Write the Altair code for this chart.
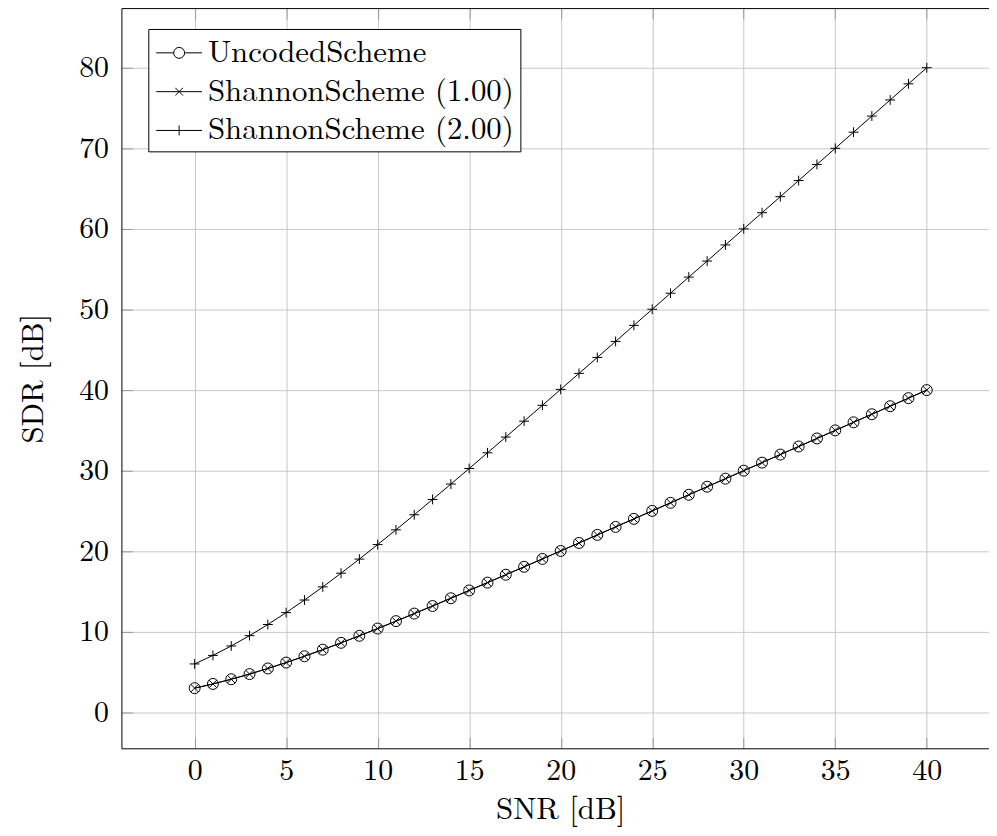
import altair as alt
import pandas as pd

# ---------------- data ----------------
snr_db = [0, 1, 2, 3, 4, 5, 6, 7, 8, 9, 10, 11, 12, 13, 14, 15, 16, 17, 18, 19, 20,
          21, 22, 23, 24, 25, 26, 27, 28, 29, 30, 31, 32, 33, 34, 35, 36, 37, 38, 39, 40]

uncoded = [3.01, 3.54, 4.12, 4.76, 5.46, 6.19, 6.97, 7.79, 8.64, 9.51, 10.41,
           11.33, 12.27, 13.21, 14.17, 15.14, 16.11, 17.09, 18.07, 19.05, 20.04,
           21.03, 22.03, 23.02, 24.02, 25.01, 26.01, 27.01, 28.01, 29.01, 30.00,
           31.00, 32.00, 33.00, 34.00, 35.00, 36.00, 37.00, 38.00, 39.00, 40.00]

shannon_100 = [3.01, 3.54, 4.12, 4.76, 5.46, 6.19, 6.97, 7.79, 8.64, 9.51, 10.41,
               11.33, 12.27, 13.21, 14.17, 15.14, 16.11, 17.09, 18.07, 19.05, 20.04,
               21.03, 22.03, 23.02, 24.02, 25.01, 26.01, 27.01, 28.01, 29.01, 30.00,
               31.00, 32.00, 33.00, 34.00, 35.00, 36.00, 37.00, 38.00, 39.00, 40.00]

shannon_200 = [6.02, 7.08, 8.25, 9.53, 10.91, 12.39, 13.95, 15.58, 17.28, 19.03, 20.83,
               22.66, 24.53, 26.43, 28.34, 30.27, 32.22, 34.17, 36.14, 38.11, 40.09,
               42.07, 44.05, 46.04, 48.03, 50.03, 52.02, 54.02, 56.01, 58.01, 60.01,
               62.01, 64.00, 66.00, 68.00, 70.00, 72.00, 74.00, 76.00, 78.00, 80.00]

series_names = ["UncodedScheme", "ShannonScheme (1.00)", "ShannonScheme (2.00)"]
x_ticks = [0, 5, 10, 15, 20, 25, 30, 35, 40]
y_ticks = [0, 10, 20, 30, 40, 50, 60, 70, 80]

rows = []
for name, vals in zip(series_names, [uncoded, shannon_100, shannon_200]):
    for s, v in zip(snr_db, vals):
        rows.append({"snr": s, "sdr": v, "series": name})
df = pd.DataFrame(rows)

# ---------------- styling ----------------
FONT = ("'Latin Modern Roman', 'CMU Serif', 'TeX Gyre Termes', 'Nimbus Roman', "
        "'FreeSerif', 'Liberation Serif', 'DejaVu Serif', 'Noto Serif', serif")
TICK_IN = {"expr": "-11"}
GRID = "#c8c8c8"
TICKC = "#999999"

x_scale = alt.Scale(domain=[-4, 43.4], nice=False, zero=False)
y_scale = alt.Scale(domain=[-4.45, 87.4], nice=False, zero=False)

marker_paths = [
    "circle",
    "M-0.7,-0.7L0.7,0.7M-0.7,0.7L0.7,-0.7",
    "M-0.9,0L0.9,0M0,-0.9L0,0.9",
]

L, r, xh, ph = 1.314, 0.314, 0.22, 0.286
legend_paths = [
    f"M-{L},0L-{r},0M{r},0L{L},0M-{r},0A{r},{r},0,1,1,{r},0A{r},{r},0,1,1,-{r},0",
    f"M-{L},0L{L},0M-{xh},-{xh}L{xh},{xh}M-{xh},{xh}L{xh},-{xh}",
    f"M-{L},0L{L},0M0,-{ph}L0,{ph}",
]

x_axis = alt.Axis(
    values=x_ticks, grid=True, gridColor=GRID, gridWidth=1,
    domain=True, domainColor="black", domainWidth=1,
    ticks=True, tickSize=TICK_IN, tickColor=TICKC, tickWidth=1,
    labelFont=FONT, labelFontSize=30, labelColor="black", labelPadding=18,
    title="SNR [dB]", titleFont=FONT, titleFontSize=31, titleFontWeight="normal",
    titleColor="black", titlePadding=10, titleX=441,
)
y_axis = alt.Axis(
    values=y_ticks, grid=True, gridColor=GRID, gridWidth=1,
    domain=True, domainColor="black", domainWidth=1,
    ticks=True, tickSize=TICK_IN, tickColor=TICKC, tickWidth=1,
    labelFont=FONT, labelFontSize=30, labelColor="black", labelPadding=24,
    title="SDR [dB]", titleFont=FONT, titleFontSize=31, titleFontWeight="normal",
    titleColor="black", titlePadding=29,
)
top_axis = alt.Axis(
    orient="top", values=x_ticks, grid=False, labels=False,
    domain=True, domainColor="black", domainWidth=1,
    ticks=True, tickSize=TICK_IN, tickColor=TICKC, tickWidth=1,
)

base = alt.Chart(df)

lines = base.mark_line(color="black", strokeWidth=1).encode(
    x=alt.X("snr:Q", scale=x_scale, axis=x_axis),
    y=alt.Y("sdr:Q", scale=y_scale, axis=y_axis),
    detail="series:N",
)

points = base.mark_point(filled=False, color="black", strokeWidth=1, size=121, opacity=1).encode(
    x=alt.X("snr:Q", scale=x_scale, axis=None),
    y=alt.Y("sdr:Q", scale=y_scale, axis=None),
    shape=alt.Shape("series:N", scale=alt.Scale(domain=series_names, range=marker_paths), legend=None),
)

legend_layer = base.transform_filter("false").mark_point(
    filled=False, color="black", strokeWidth=1, opacity=1
).encode(
    x=alt.X("snr:Q", scale=x_scale, axis=top_axis, title=None),
    y=alt.Y("sdr:Q", scale=y_scale, axis=None),
    shape=alt.Shape(
        "series:N",
        scale=alt.Scale(domain=series_names, range=legend_paths),
        legend=alt.Legend(
            title=None, orient="none", legendX=27, legendY=21, direction="vertical",
            strokeColor="black", fillColor="white", padding=6, cornerRadius=0,
            labelFont=FONT, labelFontSize=31, labelColor="black", labelLimit=500,
            symbolSize=1225, symbolStrokeWidth=1, symbolStrokeColor="black",
            symbolFillColor="transparent", symbolOpacity=1,
            symbolOffset=7, labelOffset=11, rowPadding=6,
        ),
    ),
)

chart = (
    alt.layer(lines, points, legend_layer)
    .resolve_scale(shape="independent")
    .resolve_axis(x="independent", y="independent")
    .properties(width=872, height=744, padding={"left": 10, "top": -3, "right": 0, "bottom": 0},
                background="white")
    .configure_view(strokeWidth=0)
)

chart.save("out.html", embed_options={"renderer": "svg", "actions": False})
